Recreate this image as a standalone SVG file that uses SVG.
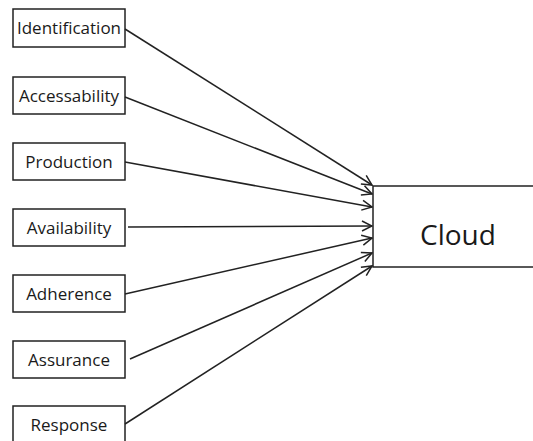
<svg xmlns="http://www.w3.org/2000/svg" width="533" height="441" viewBox="0 0 533 441">
<style>
.box{fill:#fff;stroke:#222;stroke-width:1.5}
.lbl{font-family:"Open Sans","Noto Sans",sans-serif;font-size:17px;fill:#1a1a1a;text-anchor:middle}
.big{font-size:28px}
.conn{stroke:#222;stroke-width:1.5;fill:none;marker-end:url(#arr)}
</style>
<defs>
<marker id="arr" viewBox="0 0 12 12" refX="11" refY="6" markerWidth="12" markerHeight="12" markerUnits="userSpaceOnUse" orient="auto">
<path d="M1,1 L11,6 L1,11" fill="none" stroke="#222" stroke-width="1.5"/>
</marker>
</defs>
<rect width="533" height="441" fill="#fff"/>
<g id="identification"><rect class="box" x="13" y="9" width="112" height="38"/><text class="lbl" x="69" y="34">Identification</text></g>
<g id="accessability"><rect class="box" x="13" y="77" width="112" height="37"/><text class="lbl" x="69" y="102">Accessability</text></g>
<g id="production"><rect class="box" x="13" y="143" width="112" height="37"/><text class="lbl" x="69" y="168">Production</text></g>
<g id="availability"><rect class="box" x="13" y="209" width="112" height="37"/><text class="lbl" x="69" y="234">Availability</text></g>
<g id="adherence"><rect class="box" x="13" y="275" width="112" height="37"/><text class="lbl" x="69" y="300">Adherence</text></g>
<g id="assurance"><rect class="box" x="13" y="341" width="112" height="37"/><text class="lbl" x="69" y="366">Assurance</text></g>
<g id="response"><rect class="box" x="13" y="406" width="112" height="37"/><text class="lbl" x="69" y="431">Response</text></g>
<g id="cloud"><rect class="box" x="373" y="186" width="162" height="81"/><text class="lbl big" x="458" y="245">Cloud</text></g>
<g id="connectors">
<line class="conn" x1="125" y1="29" x2="372" y2="185"/>
<line class="conn" x1="125" y1="97" x2="372" y2="194"/>
<line class="conn" x1="125" y1="162" x2="372" y2="207"/>
<line class="conn" x1="128" y1="227" x2="372" y2="226"/>
<line class="conn" x1="125" y1="294" x2="372" y2="238"/>
<line class="conn" x1="130" y1="359" x2="372" y2="253"/>
<line class="conn" x1="125" y1="424" x2="372" y2="266"/>
</g>
</svg>
